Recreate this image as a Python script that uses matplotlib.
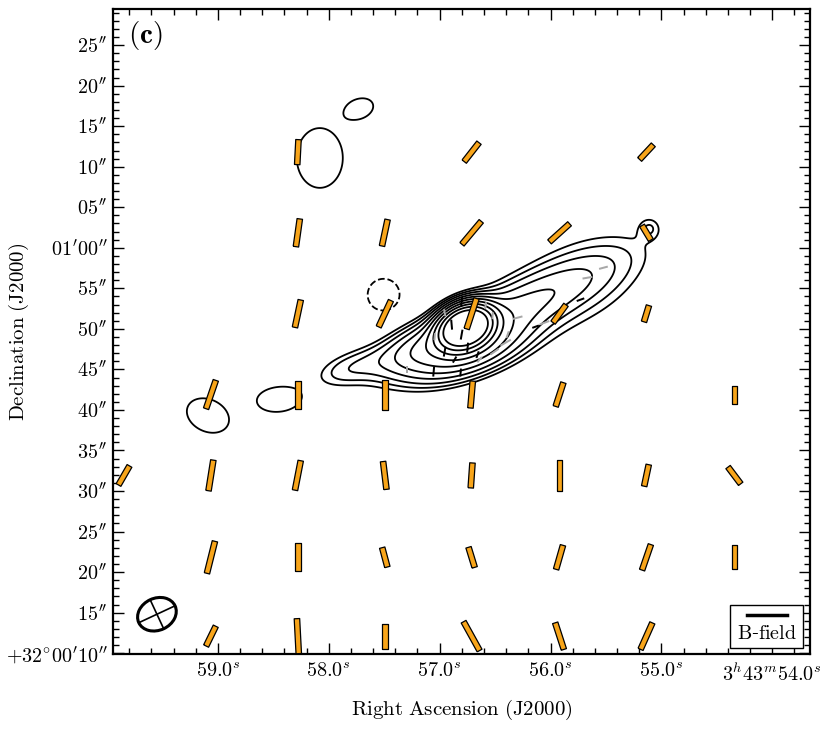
import numpy as np
import matplotlib
matplotlib.use('Agg')
import matplotlib.pyplot as plt
from matplotlib.patches import Ellipse, Rectangle
from matplotlib.transforms import ScaledTranslation
from matplotlib.ticker import FixedLocator, MultipleLocator

plt.rcParams['mathtext.fontset'] = 'cm'
plt.rcParams['font.family'] = ['DejaVu Serif']

# ---------------- data (RA seconds of 3h43m, Dec arcsec above +32d00m00s) -------------
# emission components for the contour map:
# ra, dec, amplitude, sigma_major("), sigma_minor("), pa(deg, on screen), profile exponent
comp_ra  = [56.766, 56.730, 56.414, 57.135, 57.811, 55.694, 55.108, 57.730, 58.081, 58.459, 59.090, 57.505]
comp_dec = [50.27, 47.19, 51.87, 48.05, 45.22, 55.81, 62.46, 77.12, 71.08, 41.28, 39.31, 54.20]
comp_amp = [10.0, 1.1, 0.8, 0.7, 0.32, 0.22, 0.2, 0.26, 0.26, 0.26, 0.26, -0.26]
comp_smaj = [1.97, 4.93, 9.24, 3.94, 3.45, 6.77, 0.99, 2.17, 4.33, 3.04, 3.19, 2.32]
comp_smin = [1.42, 1.97, 2.22, 1.72, 1.48, 4.93, 0.99, 1.45, 3.33, 1.74, 2.32, 2.32]
comp_pa = [25, 20, 25, 22, 18, 30, 0, 20, 90, 5, -25, 0]
comp_shape = [1, 1, 1, 1, 1, 1, 1, 2, 2, 2, 2, 2]
contour_levels = [0.2, 0.284, 0.40, 0.57, 0.81, 1.15, 1.64, 2.33, 3.3, 4.7]
neg_levels = [-0.2]

# large-scale B-field vectors: ra, dec, tilt from north (deg, + = toward west/right), length (px)
vec_ra = [58.279, 56.712, 55.135,
          58.279, 57.495, 56.712, 55.919, 55.135,
          58.279, 57.495, 56.712, 55.919, 55.135,
          59.063, 58.279, 57.495, 56.712, 55.919, 54.342,
          59.847, 59.063, 58.279, 57.495, 56.712, 55.919, 55.135, 54.342,
          59.063, 58.279, 57.495, 56.712, 55.919, 55.135, 54.342,
          59.063, 58.279, 57.495, 56.712, 55.919, 55.135, 54.342]
vec_dec = [71.8, 71.8, 71.8,
           61.85, 61.85, 61.85, 61.85, 61.85,
           51.87, 51.87, 51.87, 51.87, 51.87,
           41.9, 41.9, 41.9, 41.9, 41.9, 41.9,
           31.92, 31.92, 31.92, 31.92, 31.92, 31.92, 31.92, 31.92,
           21.82, 21.82, 21.82, 21.82, 21.82, 21.82, 21.82,
           12.1, 12.1, 12.1, 12.1, 12.1, 12.1, 12.1]
vec_tilt = [3, 38, 43,
            8, 12, 40, 48, -31,
            12, 25, 18, 36, 17,
            19, 0, 0, 5, 18, 0,
            30, 9, 11, -7, 4, 0, 12, -37,
            14, 0, -15, -17, 16, 19, 0,
            26, -3, 0, -29, -18, 24, 0]
vec_len = [25, 24, 20,
           28, 27, 30, 27, 17,
           28, 29, 32, 22, 17,
           30, 28, 30, 27, 25, 18,
           22, 31, 30, 28, 25, 31, 22, 21,
           33, 28, 20, 21, 25, 27, 24,
           22, 35, 25, 33, 28, 29, 20]

# small-scale vectors on the core: ra, dec, tilt, length(px), significance (1 = black, 0 = grey)
seg_ra = [55.523, 55.667, 55.730, 56.297, 56.054, 56.135, 56.405, 56.505, 56.640, 57.297,
          57.054, 56.811, 56.955, 56.802, 56.586, 56.523, 56.892, 56.802, 57.045, 56.955,
          56.865, 56.748, 56.658, 56.387]
seg_dec = [57.54, 56.31, 53.60, 51.38, 50.76, 50.27, 48.30, 47.19, 46.21, 44.98,
           44.73, 44.61, 52.0, 53.35, 52.86, 51.63, 50.52, 49.29, 49.04, 47.19,
           46.21, 47.68, 46.82, 49.29]
seg_tilt = [75, 80, 70, 75, 70, 70, 60, 55, 40, 0,
            5, 5, -10, 5, 10, 5, -5, 10, 5, 10,
            30, 5, 20, 20]
seg_len = [9, 10, 8, 10, 10, 7, 12, 10, 7, 7,
           10, 8, 7, 10, 7, 7, 10, 10, 7, 10,
           7, 10, 7, 7]
seg_sig = [0, 0, 1, 0, 0, 1, 0, 0, 0, 0,
           1, 1, 0, 1, 0, 0, 1, 1, 0, 1,
           1, 1, 1, 0]

# beam: centre ra, dec, major, minor (px on screen), angle
beam_ra, beam_dec = 59.55, 14.8
beam_maj, beam_min, beam_pa = 40, 32, 25

xticks_ra = [59.0, 58.0, 57.0, 56.0, 55.0, 54.0]
xtick_labels = [r'$59.0^{s}$', r'$58.0^{s}$', r'$57.0^{s}$', r'$56.0^{s}$', r'$55.0^{s}$',
                r'$3^{h}43^{m}54.0^{s}$']
yticks_dec = [10, 15, 20, 25, 30, 35, 40, 45, 50, 55, 60, 65, 70, 75, 80, 85]
ytick_labels = [r"$+32^{\circ}00'10''$", r"$15''$", r"$20''$", r"$25''$", r"$30''$", r"$35''$",
                r"$40''$", r"$45''$", r"$50''$", r"$55''$", r"$01'00''$", r"$05''$", r"$10''$",
                r"$15''$", r"$20''$", r"$25''$"]

# ---------------- figure -------------
DPI = 100
fig = plt.figure(figsize=(8.31, 7.32), dpi=DPI)
ax = fig.add_axes([0.136, 0.1066, 0.839, 0.8805])
ax.set_xlim(59.946, 53.658)
ax.set_ylim(9.9, 89.4)

# screen scale: seconds of RA -> screen-equal arcsec units
KX = 13.67
ra_g = np.linspace(53.5, 60.1, 800)
dec_g = np.linspace(9.0, 90.0, 800)
RA, DEC = np.meshgrid(ra_g, dec_g)
X = (59.0 - RA) * KX
Y = DEC
F = np.zeros_like(X)
for r0, d0, a, smj, smn, pa, p in zip(comp_ra, comp_dec, comp_amp, comp_smaj, comp_smin, comp_pa, comp_shape):
    dx = X - (59.0 - r0) * KX
    dy = Y - d0
    t = np.deg2rad(pa)
    u = dx * np.cos(t) + dy * np.sin(t)
    v = -dx * np.sin(t) + dy * np.cos(t)
    q2 = u ** 2 / smj ** 2 + v ** 2 / smn ** 2
    F += a * np.exp(-0.5 * q2 ** p)

ax.contour(RA, DEC, F, levels=contour_levels, colors='k', linewidths=1.3, zorder=2)
ax.contour(RA, DEC, F, levels=neg_levels, colors='k', linewidths=1.3, linestyles='--', zorder=2)

# large vectors
t = np.deg2rad(np.array(vec_tilt))
L = np.array(vec_len, dtype=float)
ax.quiver(vec_ra, vec_dec, L * np.sin(t), L * np.cos(t), angles='uv', scale_units='dots', scale=1,
          pivot='middle', units='dots', width=5.5, headwidth=0, headlength=0, headaxislength=0,
          color='#F8A51A', edgecolor='k', linewidth=0.9, zorder=4)

# small vectors
t2 = np.deg2rad(np.array(seg_tilt))
L2 = np.array(seg_len, dtype=float)
cols = ['k' if s else '#a8a8a8' for s in seg_sig]
ax.quiver(seg_ra, seg_dec, L2 * np.sin(t2), L2 * np.cos(t2), angles='uv', scale_units='dots', scale=1,
          pivot='middle', units='dots', width=2.0, headwidth=0, headlength=0, headaxislength=0,
          color=cols, zorder=3)

# beam
tr = fig.dpi_scale_trans + ScaledTranslation(beam_ra, beam_dec, ax.transData)
ax.add_patch(Ellipse((0, 0), beam_maj / DPI, beam_min / DPI, angle=beam_pa, fill=False,
                     edgecolor='k', linewidth=2.2, transform=tr, zorder=5))
for ang, half in ((beam_pa, beam_maj / 2), (beam_pa + 90, beam_min / 2)):
    c, s = np.cos(np.deg2rad(ang)), np.sin(np.deg2rad(ang))
    ax.plot([-half * c / DPI, half * c / DPI], [-half * s / DPI, half * s / DPI],
            color='k', linewidth=1.2, transform=tr, zorder=5)

# legend box
ax.add_patch(Rectangle((0.885, 0.009), 0.105, 0.067, transform=ax.transAxes, facecolor='white',
                       edgecolor='k', linewidth=1.0, zorder=10))
ax.plot([0.9096, 0.967], [0.0605, 0.0605], color='k', linewidth=2.5, transform=ax.transAxes, zorder=11)
ax.text(0.9375, 0.032, r'$\mathrm{B}$-$\mathrm{field}$', transform=ax.transAxes, ha='center', va='center',
        fontsize=14.5, zorder=11)

ax.text(0.022, 0.985, r'$\mathbf{(c)}$', transform=ax.transAxes, ha='left', va='top', fontsize=21)

# axes
ax.xaxis.set_major_locator(FixedLocator(xticks_ra))
ax.set_xticklabels(xtick_labels, fontsize=14.5)
ax.xaxis.set_minor_locator(MultipleLocator(0.2))
ax.yaxis.set_major_locator(FixedLocator(yticks_dec))
ax.set_yticklabels(ytick_labels, fontsize=14.5)
ax.yaxis.set_minor_locator(MultipleLocator(1))
ax.tick_params(which='both', direction='in', top=True, right=True, width=1.0)
ax.tick_params(which='major', length=8)
ax.tick_params(axis='x', which='major', pad=6)
ax.tick_params(axis='y', which='major', pad=4)
ax.tick_params(which='minor', length=4)
for sp in ax.spines.values():
    sp.set_linewidth(1.6)
ax.set_xlabel(r'$\mathrm{Right\ Ascension\ (J2000)}$', fontsize=15)
ax.xaxis.set_label_coords(0.5, -0.068)
ax.set_ylabel(r'$\mathrm{Declination\ (J2000)}$', fontsize=15)
ax.yaxis.set_label_coords(-0.118, 0.5)

fig.savefig('out.png', dpi=DPI)
